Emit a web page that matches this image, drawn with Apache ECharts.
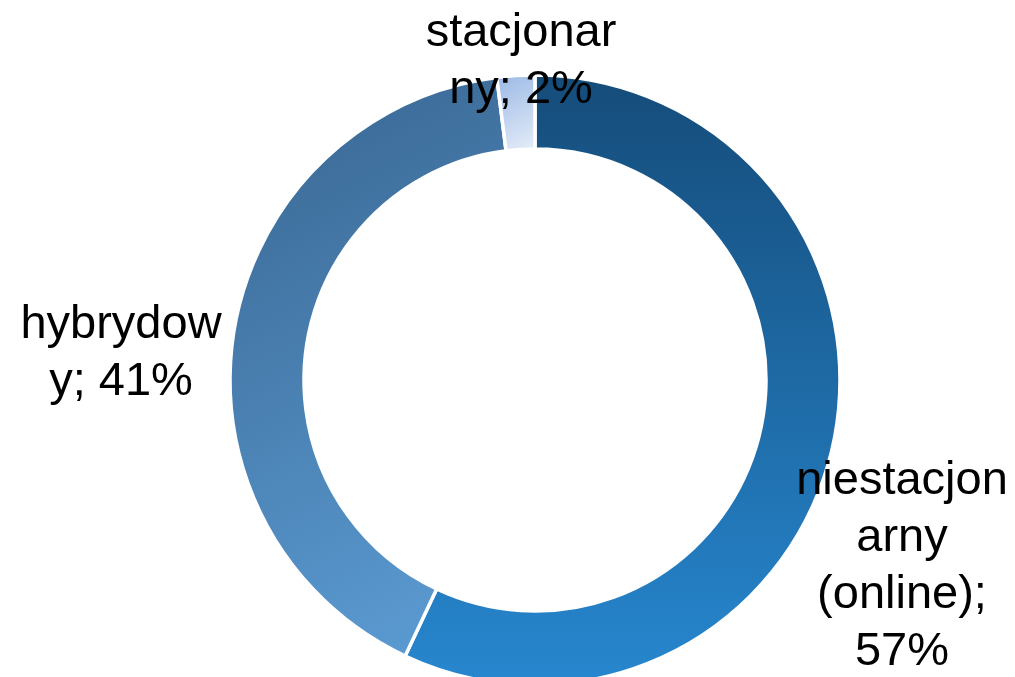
<!DOCTYPE html>
<html>
<head>
<meta charset="utf-8">
<script src="https://cdn.jsdelivr.net/npm/echarts@6/dist/echarts.min.js"></script>
<style>
  html, body { margin: 0; padding: 0; background: #fff; }
  #chart { width: 1015px; height: 677px; }
</style>
</head>
<body>
<div id="chart"></div>
<script>
// dane
const categories = ['niestacjonarny (online)', 'hybrydowy', 'stacjonarny']
const labelTexts = ['niestacjon\narny\n(online);\n57%', 'hybrydow\ny; 41%', 'stacjonar\nny; 2%']
const values = [57, 41, 2]

// kolory (gradienty jak w Excelu)
const fills = [
  new echarts.graphic.LinearGradient(0, 0, 0, 1, [
    { offset: 0, color: '#154c7a' },
    { offset: 1, color: '#2787cf' }
  ]),
  new echarts.graphic.LinearGradient(0, 0, 1, 1, [
    { offset: 0, color: '#386590' },
    { offset: 1, color: '#5d9ed6' }
  ]),
  new echarts.graphic.LinearGradient(0, 0, 1, 1, [
    { offset: 0, color: '#98b7e4' },
    { offset: 1, color: '#e8eff9' }
  ])
]
// środki etykiet
const labelPos = [[902, 567], [121, 354], [521, 62]]

const chart = echarts.init(document.getElementById('chart'))

const option = {
  animation: false,
  textStyle: { fontFamily: 'Liberation Sans, Arial, sans-serif' },
  series: [
    {
      type: 'pie',
      center: [535, 380],
      radius: [231, 305],
      startAngle: 90,
      clockwise: true,
      itemStyle: { borderColor: '#fff', borderWidth: 3.5 },
      label: {
        show: true,
        position: 'outside',
        color: '#000',
        fontSize: 47,
        lineHeight: 57,
        align: 'center',
        overflow: 'none',
        bleedMargin: 0,
        fontFamily: 'Liberation Sans, Arial, sans-serif',
        formatter: p => labelTexts[p.dataIndex]
      },
      labelLine: { show: false },
      labelLayout: p => ({
        x: labelPos[p.dataIndex][0],
        y: labelPos[p.dataIndex][1],
        align: 'center',
        verticalAlign: 'middle',
        width: 300
      }),
      emphasis: { disabled: true },
      data: categories.map((c, i) => ({ name: c, value: values[i], itemStyle: { color: fills[i] } }))
    }
  ]
}

chart.setOption(option)
</script>
</body>
</html>
